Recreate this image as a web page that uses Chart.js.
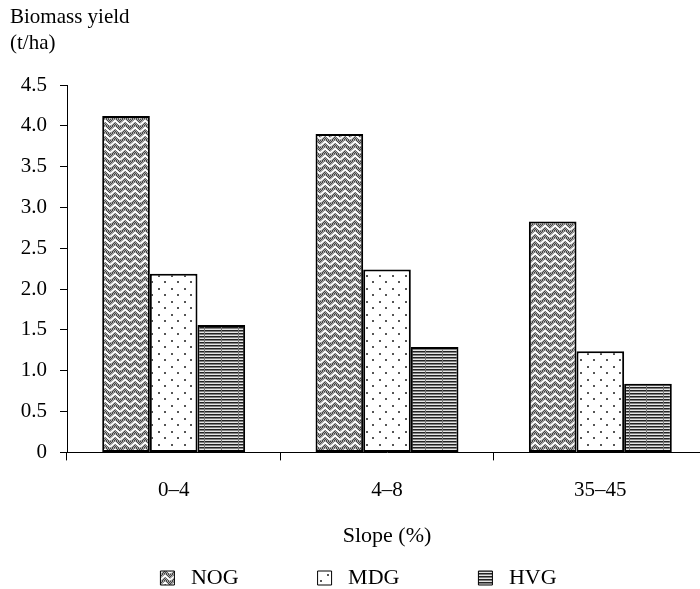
<!DOCTYPE html>
<html>
<head>
<meta charset="utf-8">
<script src="https://cdn.jsdelivr.net/npm/chart.js@4"></script>
<style>
  html, body { margin: 0; padding: 0; background: #fff; overflow: hidden; }
  #wrap { width: 707px; height: 589px; }
</style>
</head>
<body>
<div id="wrap"><canvas id="myChart"></canvas></div>
<script>
(function () {
  'use strict';

  var categories = ['0–4', '4–8', '35–45'];
  var seriesNames = ['NOG', 'MDG', 'HVG'];
  var nogValues = [4.12, 3.90, 2.83];
  var mdgValues = [2.19, 2.24, 1.24];
  var hvgValues = [1.56, 1.29, 0.84];
  var yTicks = [0, 0.5, 1.0, 1.5, 2.0, 2.5, 3.0, 3.5, 4.0, 4.5];

  var serif = "'Liberation Serif', 'DejaVu Serif', serif";

  // fill patterns for the three bar series
  function makePattern(kind) {
    var c = document.createElement('canvas');
    var g = c.getContext('2d');
    var x, y;
    if (kind === 'NOG') {
      c.width = 10; c.height = 7;
      g.fillStyle = '#a8a8a8';
      g.fillRect(0, 0, 10, 7);
      g.fillStyle = '#444';
      for (y = 0; y < 7; y++) {
        for (x = 0; x < 10; x++) {
          if ((x + y) % 2 === 0) g.fillRect(x, y, 1, 1);
        }
      }
      g.strokeStyle = '#fff';
      g.lineWidth = 1.8;
      g.beginPath();
      g.moveTo(0, 6); g.lineTo(5, 1.5); g.lineTo(10, 6);
      g.stroke();
    } else if (kind === 'MDG') {
      c.width = 13; c.height = 13;
      g.fillStyle = '#fff';
      g.fillRect(0, 0, 13, 13);
      g.fillStyle = '#555';
      g.fillRect(2, 2, 2, 2);
      g.fillRect(8, 8, 2, 2);
    } else {
      c.width = 17; c.height = 3;
      g.fillStyle = '#e6e6e6';
      g.fillRect(0, 0, 17, 3);
      g.fillStyle = '#222';
      g.fillRect(0, 0, 17, 1);
      g.fillStyle = '#808080';
      g.fillRect(0, 1, 17, 1);
      g.fillStyle = '#777';
      g.fillRect(0, 0, 1, 3);
    }
    return g.createPattern(c, 'repeat');
  }

  var ctx = document.getElementById('myChart').getContext('2d');
  var valueLists = [nogValues, mdgValues, hvgValues];
  var datasets = seriesNames.map(function (name, i) {
    return {
      label: name,
      data: valueLists[i],
      backgroundColor: makePattern(name),
      borderColor: '#000',
      borderWidth: 2,
      borderSkipped: false
    };
  });

  new Chart(ctx, {
    type: 'bar',
    data: { labels: categories, datasets: datasets },
    options: {
      responsive: true,
      maintainAspectRatio: false,
      animation: false,
      layout: { padding: { left: 10, right: 0, top: 0, bottom: -10 } },
      datasets: {
        bar: { categoryPercentage: 0.67, barPercentage: 1.0 }
      },
      plugins: {
        tooltip: { enabled: false },
        title: {
          display: true,
          text: ['Biomass yield', '(t/ha)'],
          align: 'start',
          color: '#000',
          font: { family: serif, size: 21, weight: 'normal', lineHeight: 1.24 },
          padding: { top: 4, bottom: 29 }
        },
        legend: {
          position: 'bottom',
          labels: {
            color: '#000',
            boxWidth: 14,
            boxHeight: 14,
            padding: 2,
            font: { family: serif, size: 22 },
            generateLabels: function (chart) {
              var items = Chart.defaults.plugins.legend.labels.generateLabels(chart);
              items.forEach(function (it, i) {
                it.lineWidth = 1;
                it.text = '\u00A0' + it.text;
                if (i < items.length - 1) it.text = it.text + '\u00A0'.repeat(14);
              });
              return items;
            }
          }
        }
      },
      scales: {
        x: {
          offset: true,
          grid: {
            display: true,
            offset: true,
            drawOnChartArea: false,
            color: '#000',
            tickLength: 8,
            tickWidth: 1
          },
          border: { display: true, color: '#000', width: 1 },
          ticks: {
            color: '#000',
            padding: 17,
            font: { family: serif, size: 21 }
          },
          title: {
            display: true,
            text: 'Slope (%)',
            color: '#000',
            font: { family: serif, size: 22 },
            padding: { top: 3, bottom: 16 }
          }
        },
        y: {
          min: 0,
          max: 4.5,
          afterFit: function (scale) { scale.width = 57; },
          afterBuildTicks: function (scale) {
            scale.ticks = yTicks.map(function (v) { return { value: v }; });
          },
          grid: {
            display: true,
            drawOnChartArea: false,
            color: '#000',
            tickLength: 7,
            tickWidth: 1
          },
          border: { display: true, color: '#000', width: 1 },
          ticks: {
            color: '#000',
            padding: 13,
            font: { family: serif, size: 21 },
            callback: function (v) { return v === 0 ? '0' : Number(v).toFixed(1); }
          }
        }
      }
    }
  });
})();
</script>
</body>
</html>
